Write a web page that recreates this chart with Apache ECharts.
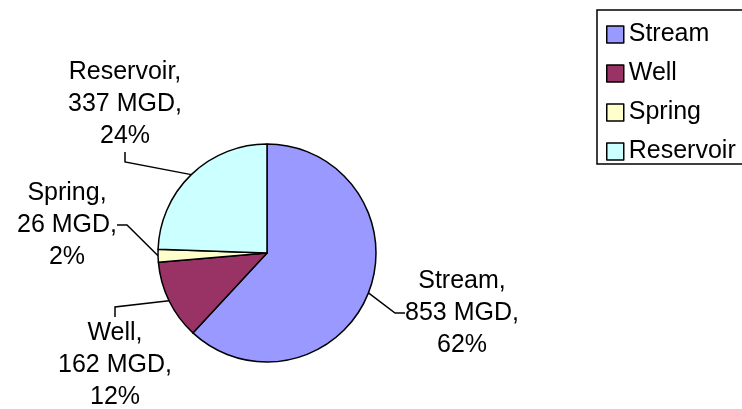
<!DOCTYPE html>
<html>
<head>
<meta charset="utf-8">
<script src="https://cdn.jsdelivr.net/npm/echarts@6/dist/echarts.min.js"></script>
<style>
  html, body { margin: 0; padding: 0; background: #fff; }
  #chart { width: 742px; height: 409px; }
</style>
</head>
<body>
<div id="chart"></div>
<script>
  // water sources, million gallons per day
  var sources = ['Stream', 'Well', 'Spring', 'Reservoir'];
  var mgd = [853, 162, 26, 337];
  var colors = ['#9999ff', '#993366', '#ffffcc', '#ccffff'];
  // where each label block sits (center of the text)
  var labelSpots = [[462, 313], [115, 365], [67, 225], [125, 104]];

  var chart = echarts.init(document.getElementById('chart'));

  var pieData = [];
  for (var i = 0; i < sources.length; i++) {
    pieData.push({ name: sources[i], value: mgd[i], itemStyle: { color: colors[i] } });
  }

  chart.setOption({
    backgroundColor: '#fff',
    animation: false,
    legend: {
      orient: 'vertical',
      left: 597,
      top: 10,
      padding: [12, 20, 0, 9],
      itemWidth: 17,
      itemHeight: 17,
      itemGap: 14,
      icon: 'rect',
      borderColor: '#000',
      borderWidth: 1.5,
      textStyle: { fontFamily: 'Liberation Sans, Arial', fontSize: 25, color: '#000' },
      itemStyle: { borderColor: '#000', borderWidth: 1.5 },
      data: sources
    },
    series: [{
      type: 'pie',
      center: [267, 253],
      radius: 109,
      startAngle: 90,
      clockwise: true,
      percentPrecision: 0,
      itemStyle: { borderColor: '#000', borderWidth: 1.5 },
      label: {
        show: true,
        formatter: '{b},\n{c} MGD,\n{d}%',
        fontFamily: 'Liberation Sans, Arial',
        fontSize: 25,
        lineHeight: 32,
        color: '#000',
        align: 'center'
      },
      labelLine: {
        show: true,
        length: 10,
        length2: 10,
        lineStyle: { color: '#000', width: 1.5 }
      },
      labelLayout: function (p) {
        var s = labelSpots[p.dataIndex];
        return { x: s[0], y: s[1], align: 'center', verticalAlign: 'middle' };
      },
      emphasis: { disabled: true },
      data: pieData
    }]
  });
</script>
</body>
</html>
